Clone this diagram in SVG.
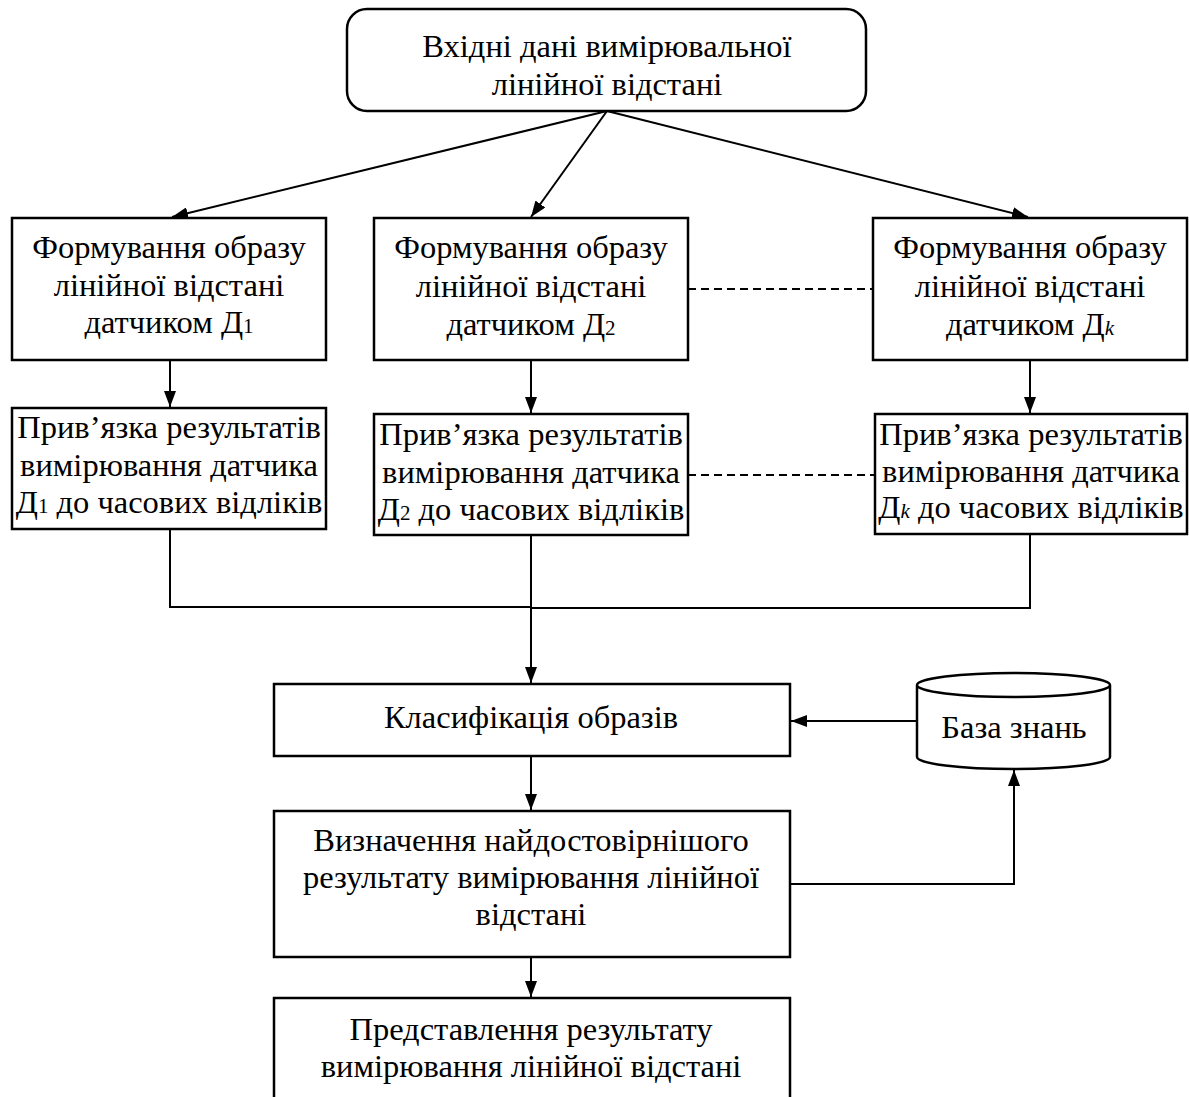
<svg xmlns="http://www.w3.org/2000/svg" width="1189" height="1097" viewBox="0 0 1189 1097">
<style>
.box{fill:#fff;stroke:#000;stroke-width:2.5}
.t{font-family:"Liberation Serif","Times New Roman",serif;font-size:32.5px;text-anchor:middle;fill:#000}
.sub{font-size:21px}
.con{fill:none;stroke:#000;stroke-width:2}
.dash{fill:none;stroke:#000;stroke-width:1.8;stroke-dasharray:8 5}
</style>
<defs>
<marker id="arr" markerUnits="userSpaceOnUse" markerWidth="18" markerHeight="12" refX="16" refY="6" orient="auto">
<path d="M0,0 L16,6 L0,12 z" fill="#000"/>
</marker>
</defs>
<rect width="1189" height="1097" fill="#fff"/>
<g id="connectors">
<line class="con" x1="607" y1="111" x2="172" y2="217" marker-end="url(#arr)"/>
<line class="con" x1="607" y1="111" x2="531" y2="217" marker-end="url(#arr)"/>
<line class="con" x1="607" y1="111" x2="1028" y2="217" marker-end="url(#arr)"/>
<line class="con" x1="170" y1="360" x2="170" y2="407" marker-end="url(#arr)"/>
<line class="con" x1="531" y1="360" x2="531" y2="413" marker-end="url(#arr)"/>
<line class="con" x1="1030" y1="360" x2="1030" y2="413" marker-end="url(#arr)"/>
<line class="dash" x1="688" y1="289" x2="873" y2="289"/>
<line class="dash" x1="688" y1="475" x2="875" y2="475"/>
<polyline class="con" points="170,529 170,607 531,607"/>
<polyline class="con" points="1030,534 1030,608 531,608"/>
<line class="con" x1="531" y1="535" x2="531" y2="683" marker-end="url(#arr)"/>
<line class="con" x1="917" y1="721" x2="791" y2="721" marker-end="url(#arr)"/>
<line class="con" x1="531" y1="756" x2="531" y2="810" marker-end="url(#arr)"/>
<polyline class="con" points="790,884 1014,884 1014,770" marker-end="url(#arr)"/>
<line class="con" x1="531" y1="957" x2="531" y2="997" marker-end="url(#arr)"/>
</g>
<g id="n_input">
<rect class="box" x="347" y="9" width="519" height="102" rx="20" ry="20"/>
<text class="t" x="607" y="57">Вхідні дані вимірювальної</text>
<text class="t" x="607" y="95">лінійної відстані</text>
</g>
<g id="n_form1">
<rect class="box" x="12" y="218" width="314" height="142"/>
<text class="t" x="169" y="258">Формування образу</text>
<text class="t" x="169" y="296">лінійної відстані</text>
<text class="t" x="169" y="333">датчиком Д<tspan class="sub">1</tspan></text>
</g>
<g id="n_form2">
<rect class="box" x="374" y="218" width="314" height="142"/>
<text class="t" x="531" y="258">Формування образу</text>
<text class="t" x="531" y="297">лінійної відстані</text>
<text class="t" x="531" y="335">датчиком Д<tspan class="sub">2</tspan></text>
</g>
<g id="n_formk">
<rect class="box" x="873" y="218" width="314" height="142"/>
<text class="t" x="1030" y="258">Формування образу</text>
<text class="t" x="1030" y="297">лінійної відстані</text>
<text class="t" x="1030" y="335">датчиком Д<tspan class="sub" font-style="italic">k</tspan></text>
</g>
<g id="n_bind1">
<rect class="box" x="12" y="408" width="314" height="121"/>
<text class="t" x="169" y="438">Прив’язка результатів</text>
<text class="t" x="169" y="476">вимірювання датчика</text>
<text class="t" x="169" y="513">Д<tspan class="sub">1</tspan> до часових відліків</text>
</g>
<g id="n_bind2">
<rect class="box" x="374" y="414" width="314" height="121"/>
<text class="t" x="531" y="445">Прив’язка результатів</text>
<text class="t" x="531" y="483">вимірювання датчика</text>
<text class="t" x="531" y="520">Д<tspan class="sub">2</tspan> до часових відліків</text>
</g>
<g id="n_bindk">
<rect class="box" x="875" y="414" width="312" height="120"/>
<text class="t" x="1031" y="445">Прив’язка результатів</text>
<text class="t" x="1031" y="482">вимірювання датчика</text>
<text class="t" x="1031" y="518">Д<tspan class="sub" font-style="italic">k</tspan> до часових відліків</text>
</g>
<g id="n_class">
<rect class="box" x="274" y="684" width="516" height="72"/>
<text class="t" x="531" y="728">Класифікація образів</text>
</g>
<g id="n_kb">
<path class="box" d="M917,685 v72 a96.5,12 0 0 0 193,0 v-72 a96.5,12 0 0 0 -193,0 a96.5,12 0 0 0 193,0"/>
<text class="t" x="1014" y="738">База знань</text>
</g>
<g id="n_best">
<rect class="box" x="274" y="811" width="516" height="146"/>
<text class="t" x="531" y="851">Визначення найдостовірнішого</text>
<text class="t" x="531" y="888">результату вимірювання лінійної</text>
<text class="t" x="531" y="925">відстані</text>
</g>
<g id="n_out">
<rect class="box" x="274" y="998" width="516" height="120"/>
<text class="t" x="531" y="1040">Представлення результату</text>
<text class="t" x="531" y="1077">вимірювання лінійної відстані</text>
</g>
</svg>
